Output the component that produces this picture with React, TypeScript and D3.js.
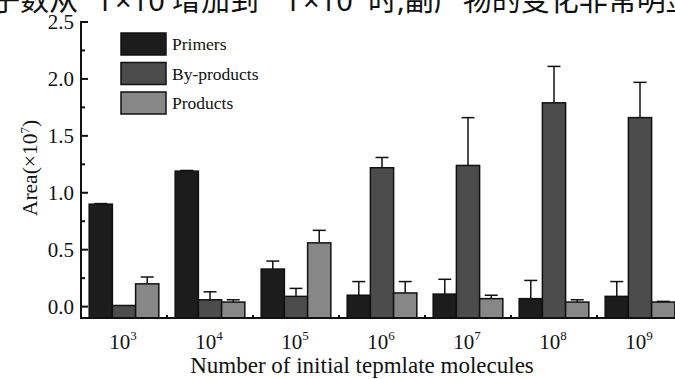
import React from "react";
import * as d3 from "d3";

const categories = ["3", "4", "5", "6", "7", "8", "9"];
const seriesNames = ["Primers", "By-products", "Products"];
const primers = [0.9, 1.19, 0.33, 0.1, 0.11, 0.07, 0.09];
const primersErr = [0.005, 0.006, 0.07, 0.12, 0.13, 0.16, 0.13];
const byProducts = [0.01, 0.06, 0.09, 1.22, 1.24, 1.79, 1.66];
const byProductsErr = [0, 0.07, 0.07, 0.09, 0.42, 0.32, 0.31];
const products = [0.2, 0.04, 0.56, 0.12, 0.07, 0.04, 0.04];
const productsErr = [0.06, 0.02, 0.11, 0.1, 0.03, 0.02, 0.006];
const yTicks = [0, 0.5, 1.0, 1.5, 2.0, 2.5];
const yMinorTicks = [0.25, 0.75, 1.25, 1.75, 2.25];
const colors = ["#1c1c1c", "#4c4c4c", "#878787"];
const noteParts = ["子数从", "1", "×10", "3", "增加到", "1", "×10", "9", "时,副产物的变化非常明显"];

const W = 675;
const H = 379;
const serif = "'Liberation Serif', 'Times New Roman', serif";
const cjk = "'Noto Sans', 'Noto Sans CJK SC', sans-serif";

export default function App() {
  const series = [
    { name: seriesNames[0], values: primers, err: primersErr },
    { name: seriesNames[1], values: byProducts, err: byProductsErr },
    { name: seriesNames[2], values: products, err: productsErr },
  ];
  const x0 = d3.scaleBand<string>().domain(categories).range([81, 683]).paddingInner(0.19).paddingOuter(0.095);
  const x1 = d3.scaleBand<string>().domain(seriesNames).range([0, x0.bandwidth()]);
  const y = d3.scaleLinear().domain([-0.1, 2.5]).range([318, 22]);
  const base = y(-0.1);
  const noteY = 11;

  return (
    <svg width={W} height={H} style={{ position: "absolute", left: 0, top: 0, background: "#fff" }}>
      {/* top cropped caption */}
      <g fontFamily={cjk} fontSize={29} fill="#111">
        <text x={-9} y={noteY}>{noteParts[0]}</text>
        <text x={96} y={noteY}>{noteParts[1]}</text>
        <text x={115} y={noteY}>
          {noteParts[2]}
          <tspan dy={-21} fontSize={9}>{noteParts[3]}</tspan>
        </text>
        <text x={172} y={noteY}>{noteParts[4]}</text>
        <text x={284} y={noteY}>{noteParts[5]}</text>
        <text x={303} y={noteY}>
          {noteParts[6]}
          <tspan dy={-21} fontSize={9}>{noteParts[7]}</tspan>
        </text>
        <text x={368} y={noteY}>{noteParts[8]}</text>
      </g>

      {/* bars */}
      {series.map((s, si) => (
        <g key={s.name}>
          {categories.map((c, ci) => {
            const bx = (x0(c) as number) + (x1(s.name) as number);
            const bw = x1.bandwidth();
            const top = y(s.values[ci]);
            const errTop = y(s.values[ci] + s.err[ci]);
            const cx = bx + bw / 2;
            return (
              <g key={c}>
                {s.err[ci] > 0.001 && (
                  <g stroke="#111" strokeWidth={1.5}>
                    <line x1={cx} x2={cx} y1={top} y2={errTop} />
                    <line x1={cx - 6.5} x2={cx + 6.5} y1={errTop} y2={errTop} />
                  </g>
                )}
                <rect x={bx} y={top} width={bw} height={base - top} fill={colors[si]} stroke="#111" strokeWidth={1.5} />
              </g>
            );
          })}
        </g>
      ))}

      {/* y axis */}
      <line x1={81} x2={81} y1={y(2.5) - 1} y2={base} stroke="#111" strokeWidth={2} />
      {yTicks.map((t) => (
        <g key={t}>
          <line x1={81} x2={88} y1={y(t)} y2={y(t)} stroke="#111" strokeWidth={2} />
          <text x={74} y={y(t)} dy="0.35em" textAnchor="end" fontFamily={serif} fontSize={21} fill="#111">
            {t.toFixed(1)}
          </text>
        </g>
      ))}
      {yMinorTicks.map((t) => (
        <line key={t} x1={81} x2={85} y1={y(t)} y2={y(t)} stroke="#111" strokeWidth={2} />
      ))}

      {/* x axis */}
      <line x1={80} x2={W} y1={base} y2={base} stroke="#111" strokeWidth={2} />
      {categories.slice(1).map((c) => {
        const bx = (x0(c) as number) - (x0.step() - x0.bandwidth()) / 2;
        return <line key={c} x1={bx} x2={bx} y1={base} y2={base - 3} stroke="#111" strokeWidth={2} />;
      })}
      {categories.map((c) => (
        <text key={c} x={(x0(c) as number) + x0.bandwidth() / 2 - 1} y={349} textAnchor="middle" fontFamily={serif} fontSize={21} fill="#111">
          10
          <tspan dy={-9} fontSize={13}>{c}</tspan>
        </text>
      ))}
      <text x={362} y={373} textAnchor="middle" fontFamily={serif} fontSize={23} fill="#111">
        Number of initial tepmlate molecules
      </text>
      <text transform="translate(37,168) rotate(-90)" textAnchor="middle" fontFamily={serif} fontSize={21.5} fill="#111">
        Area(×10
        <tspan dy={-8} fontSize={13}>7</tspan>
        <tspan dy={8}>)</tspan>
      </text>

      {/* legend */}
      {seriesNames.map((n, i) => (
        <g key={n} transform={`translate(121,${33 + i * 29.5})`}>
          <rect x={0} y={0} width={45} height={22} fill={colors[i]} stroke="#111" strokeWidth={1.5} />
          <text x={51} y={11} dy="0.35em" fontFamily={serif} fontSize={17.5} fill="#111">
            {n}
          </text>
        </g>
      ))}
    </svg>
  );
}
